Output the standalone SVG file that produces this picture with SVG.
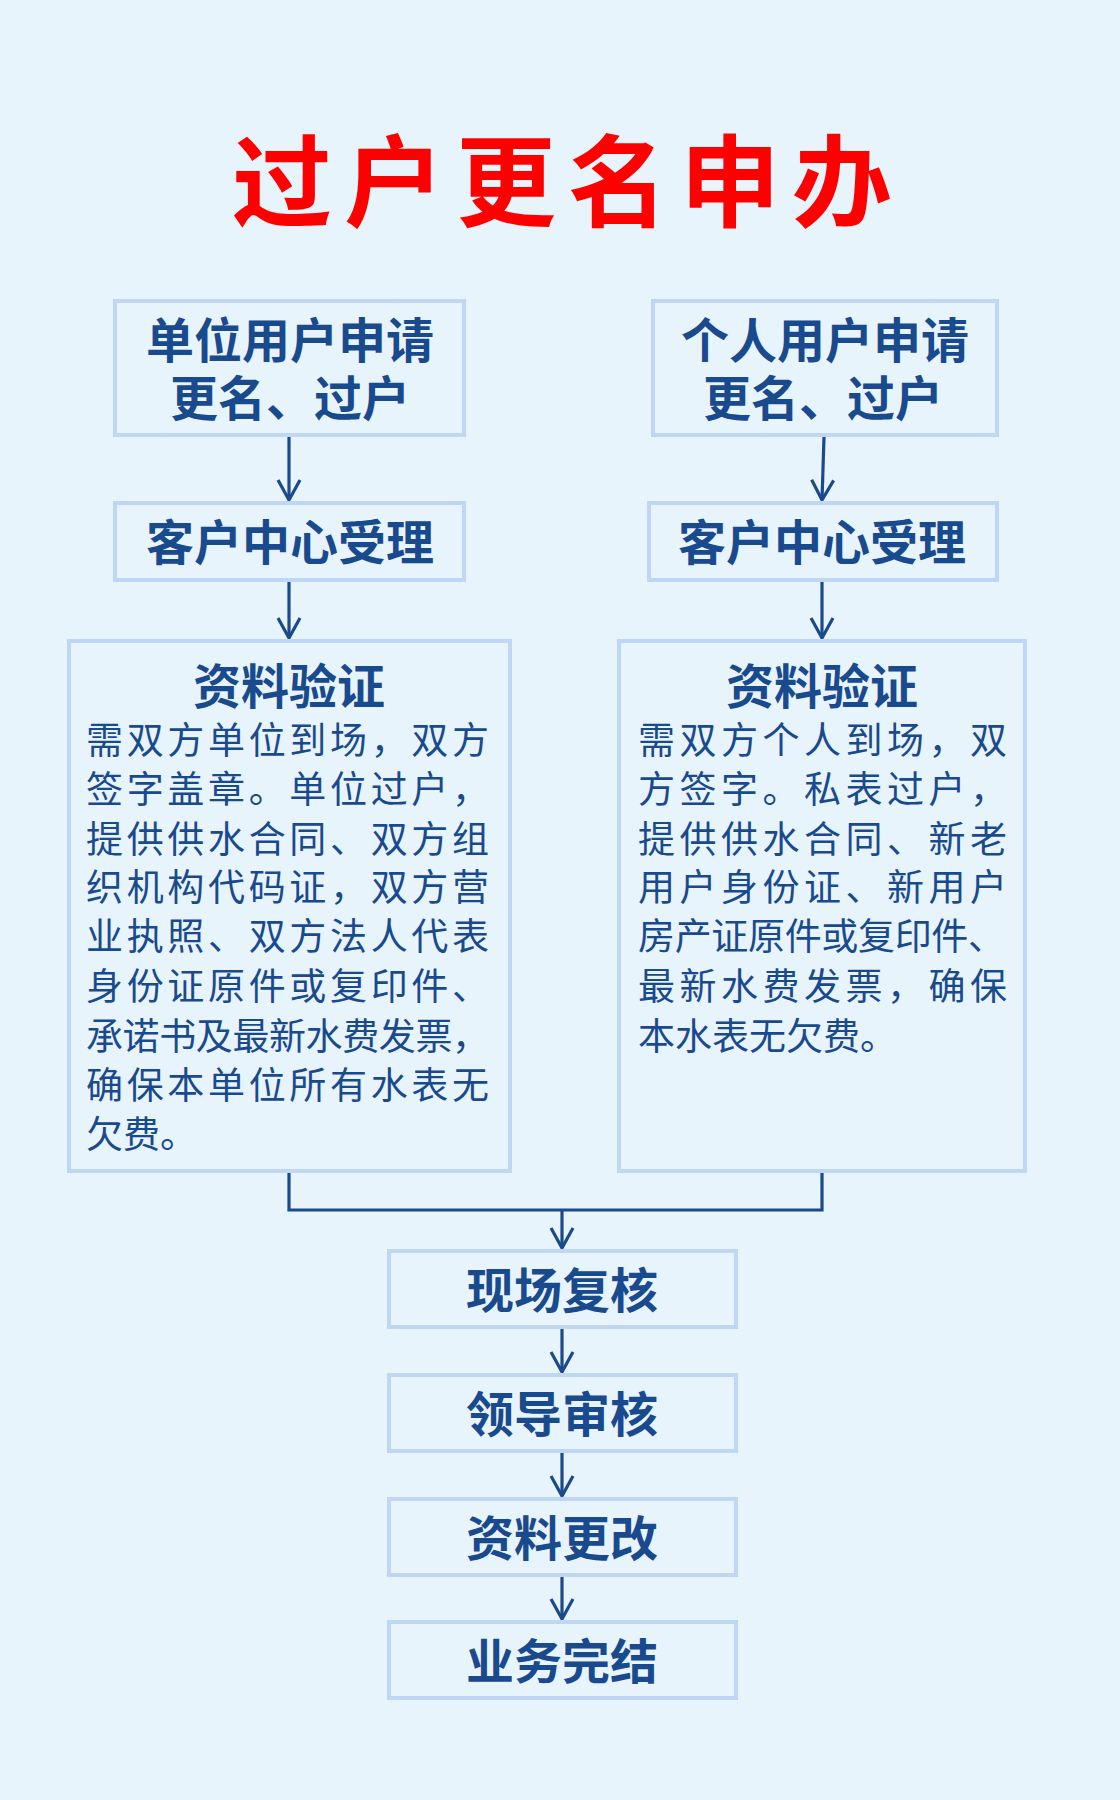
<svg xmlns="http://www.w3.org/2000/svg" width="1120" height="1800" viewBox="0 0 1120 1800">
<style>
  .bg { fill: #e8f4fb; }
  .box { fill: #e8f4fb; stroke: #bfd7f4; stroke-width: 4; }
  .h { font-family: "Noto Sans CJK SC", "Noto Sans", sans-serif; font-weight: 700; font-size: 48px; fill: #1a4a8e; text-anchor: middle; }
  .body { font-family: "Noto Sans CJK SC", "Noto Sans", sans-serif; font-weight: 400; font-size: 37px; fill: #1a4a8e; }
  .title { font-family: "Noto Sans CJK SC", "Noto Sans", sans-serif; font-weight: 700; font-size: 100px; fill: #ff0000; }
  .conn { fill: none; stroke: #1a4a8c; stroke-width: 3.2; }
</style>
<defs>
  <marker id="arr" viewBox="-23 -13 26 26" refX="0" refY="0" markerWidth="26" markerHeight="26" markerUnits="userSpaceOnUse" orient="auto">
    <path d="M -20 -11 L 0 0 L -20 11" fill="none" stroke="#1a4a8c" stroke-width="3.2"/>
  </marker>
</defs>
<rect class="bg" x="0" y="0" width="1120" height="1800"/>

<g id="title">
  <text class="title" x="232 344 456 568 680 792" y="219">过户更名申办</text>
</g>

<g id="connectors">
  <path class="conn" d="M 289 437 L 289 500" marker-end="url(#arr)"/>
  <path class="conn" d="M 824 437 L 822 500" marker-end="url(#arr)"/>
  <path class="conn" d="M 289 582 L 289 638" marker-end="url(#arr)"/>
  <path class="conn" d="M 822 582 L 822 638" marker-end="url(#arr)"/>
  <path class="conn" d="M 289 1172 L 289 1210 L 822 1210 L 822 1172"/>
  <path class="conn" d="M 562 1210 L 562 1248" marker-end="url(#arr)"/>
  <path class="conn" d="M 562 1329 L 562 1372" marker-end="url(#arr)"/>
  <path class="conn" d="M 562 1453 L 562 1496" marker-end="url(#arr)"/>
  <path class="conn" d="M 562 1577 L 562 1619" marker-end="url(#arr)"/>
</g>

<g id="n1">
  <rect class="box" x="115" y="301" width="349" height="134"/>
  <text class="h" x="290" y="358">单位用户申请</text>
  <text class="h" x="290" y="416">更名、过户</text>
</g>
<g id="n2">
  <rect class="box" x="653" y="301" width="344" height="134"/>
  <text class="h" x="825" y="358">个人用户申请</text>
  <text class="h" x="823" y="416">更名、过户</text>
</g>
<g id="n3">
  <rect class="box" x="115" y="503" width="349" height="77"/>
  <text class="h" x="290" y="560">客户中心受理</text>
</g>
<g id="n4">
  <rect class="box" x="649" y="503" width="348" height="77"/>
  <text class="h" x="822" y="560">客户中心受理</text>
</g>
<g id="n5">
  <rect class="box" x="69" y="641" width="441" height="530"/>
  <text class="h" x="289" y="704">资料验证</text>
  <text class="body" x="86" y="754" textLength="403" lengthAdjust="spacing">需双方单位到场，双方</text>
  <text class="body" x="86" y="803" textLength="403" lengthAdjust="spacing">签字盖章。单位过户，</text>
  <text class="body" x="86" y="853" textLength="403" lengthAdjust="spacing">提供供水合同、双方组</text>
  <text class="body" x="86" y="901" textLength="403" lengthAdjust="spacing">织机构代码证，双方营</text>
  <text class="body" x="86" y="950" textLength="403" lengthAdjust="spacing">业执照、双方法人代表</text>
  <text class="body" x="86" y="1000" textLength="403" lengthAdjust="spacing">身份证原件或复印件、</text>
  <text class="body" x="86" y="1050" textLength="403" lengthAdjust="spacing">承诺书及最新水费发票，</text>
  <text class="body" x="86" y="1099" textLength="403" lengthAdjust="spacing">确保本单位所有水表无</text>
  <text class="body" x="86" y="1148">欠费。</text>
</g>
<g id="n6">
  <rect class="box" x="619" y="641" width="406" height="530"/>
  <text class="h" x="822" y="704">资料验证</text>
  <text class="body" x="638" y="754" textLength="369" lengthAdjust="spacing">需双方个人到场，双</text>
  <text class="body" x="638" y="803" textLength="369" lengthAdjust="spacing">方签字。私表过户，</text>
  <text class="body" x="638" y="853" textLength="369" lengthAdjust="spacing">提供供水合同、新老</text>
  <text class="body" x="638" y="901" textLength="369" lengthAdjust="spacing">用户身份证、新用户</text>
  <text class="body" x="638" y="950" textLength="367" lengthAdjust="spacing">房产证原件或复印件、</text>
  <text class="body" x="638" y="1000" textLength="369" lengthAdjust="spacing">最新水费发票，确保</text>
  <text class="body" x="638" y="1050">本水表无欠费。</text>
</g>
<g id="n7">
  <rect class="box" x="389" y="1251" width="347" height="76"/>
  <text class="h" x="562" y="1308">现场复核</text>
</g>
<g id="n8">
  <rect class="box" x="389" y="1375" width="347" height="76"/>
  <text class="h" x="562" y="1432">领导审核</text>
</g>
<g id="n9">
  <rect class="box" x="389" y="1499" width="347" height="76"/>
  <text class="h" x="562" y="1556">资料更改</text>
</g>
<g id="n10">
  <rect class="box" x="389" y="1622" width="347" height="76"/>
  <text class="h" x="562" y="1679">业务完结</text>
</g>
</svg>
